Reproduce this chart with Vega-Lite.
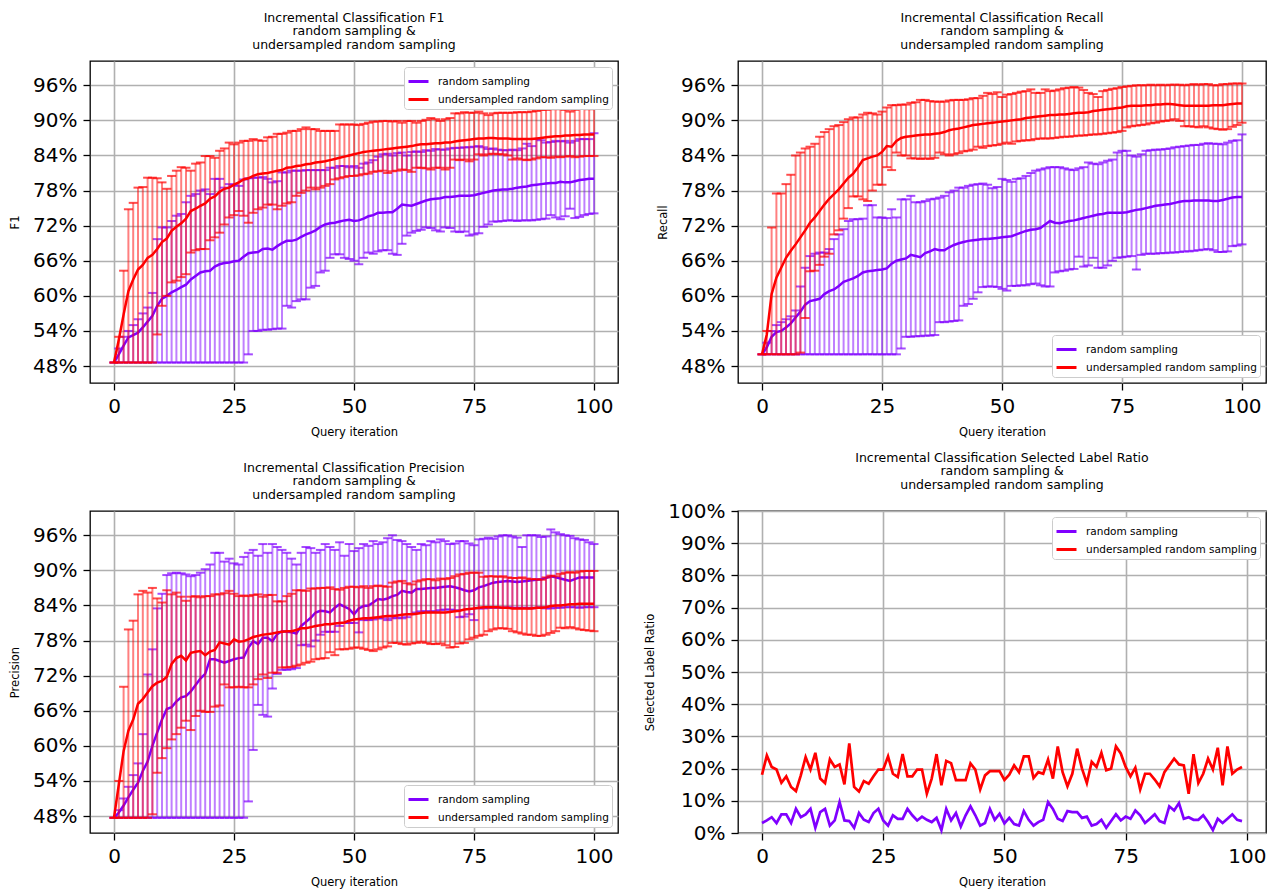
{
"$schema":"https://vega.github.io/schema/vega-lite/v6.json",
"padding":{"left":8,"top":10,"right":4,"bottom":2},
"background":"white",
"datasets":{
"f1r":[{"i":0,"m":48.6,"lo":48.6,"hi":48.6},{"i":1,"m":50.0,"lo":48.6,"hi":51},{"i":2,"m":51.5,"lo":48.6,"hi":53},{"i":3,"m":52.9,"lo":48.6,"hi":54},{"i":4,"m":53.3,"lo":48.6,"hi":55},{"i":5,"m":53.7,"lo":48.6,"hi":56},{"i":6,"m":54.6,"lo":48.6,"hi":57},{"i":7,"m":55.6,"lo":48.6,"hi":58},{"i":8,"m":56.6,"lo":48.6,"hi":60.5},{"i":9,"m":58.3,"lo":48.6,"hi":69.7},
{"i":10,"m":59.5,"lo":48.6,"hi":71.7},{"i":11,"m":60.0,"lo":48.6,"hi":71.7},{"i":12,"m":60.6,"lo":48.6,"hi":72.8},{"i":13,"m":61.0,"lo":48.6,"hi":73.7},{"i":14,"m":61.5,"lo":48.6,"hi":74.0},{"i":15,"m":61.9,"lo":48.6,"hi":76.0},{"i":16,"m":62.8,"lo":48.6,"hi":77.1},{"i":17,"m":63.4,"lo":48.6,"hi":77.4},{"i":18,"m":64.0,"lo":48.6,"hi":78.0},{"i":19,"m":64.2,"lo":48.6,"hi":78.2},
{"i":20,"m":64.3,"lo":48.6,"hi":77.4},{"i":21,"m":65.0,"lo":48.6,"hi":80.0},{"i":22,"m":65.4,"lo":48.6,"hi":80.0},{"i":23,"m":65.6,"lo":48.6,"hi":78.5},{"i":24,"m":65.7,"lo":48.6,"hi":79.1},{"i":25,"m":65.9,"lo":48.6,"hi":79.0},{"i":26,"m":66.0,"lo":48.6,"hi":78.8},{"i":27,"m":66.7,"lo":48.6,"hi":79.9},{"i":28,"m":67.3,"lo":50.0,"hi":80.1},{"i":29,"m":67.4,"lo":54.0,"hi":80.2},
{"i":30,"m":67.5,"lo":54.0,"hi":80.2},{"i":31,"m":68.0,"lo":54.2,"hi":80.3},{"i":32,"m":68.1,"lo":54.2,"hi":80.0},{"i":33,"m":67.9,"lo":54.3,"hi":79.4},{"i":34,"m":68.5,"lo":54.4,"hi":79.6},{"i":35,"m":69.0,"lo":54.4,"hi":81.1},{"i":36,"m":69.4,"lo":58.3,"hi":81.1},{"i":37,"m":69.4,"lo":58.0,"hi":81.4},{"i":38,"m":69.6,"lo":59.1,"hi":81.4},{"i":39,"m":70.1,"lo":59.4,"hi":81.4},
{"i":40,"m":70.5,"lo":59.4,"hi":81.5},{"i":41,"m":70.8,"lo":61.4,"hi":81.5},{"i":42,"m":71.2,"lo":61.7,"hi":81.5},{"i":43,"m":71.8,"lo":64.0,"hi":81.5},{"i":44,"m":72.2,"lo":64.3,"hi":81.5},{"i":45,"m":72.4,"lo":66.5,"hi":81.9},{"i":46,"m":72.5,"lo":67.1,"hi":81.9},{"i":47,"m":72.7,"lo":67.1,"hi":82.2},{"i":48,"m":72.9,"lo":66.5,"hi":82.2},{"i":49,"m":73.0,"lo":66.3,"hi":82.0},
{"i":50,"m":72.8,"lo":66.0,"hi":82.2},{"i":51,"m":72.9,"lo":65.4,"hi":81.9},{"i":52,"m":73.2,"lo":66.5,"hi":82.6},{"i":53,"m":73.6,"lo":67.4,"hi":82.8},{"i":54,"m":73.8,"lo":67.2,"hi":83.2},{"i":55,"m":74.2,"lo":67.6,"hi":83.8},{"i":56,"m":74.2,"lo":67.8,"hi":84.2},{"i":57,"m":74.3,"lo":67.8,"hi":84.3},{"i":58,"m":74.3,"lo":67.2,"hi":84.0},{"i":59,"m":74.9,"lo":67.0,"hi":84.4},
{"i":60,"m":75.6,"lo":68.9,"hi":84.5},{"i":61,"m":75.5,"lo":70.3,"hi":84.0},{"i":62,"m":75.4,"lo":70.8,"hi":84.6},{"i":63,"m":75.7,"lo":71.1,"hi":84.7},{"i":64,"m":76.0,"lo":71.3,"hi":84.6},{"i":65,"m":76.3,"lo":71.7,"hi":84.9},{"i":66,"m":76.5,"lo":71.6,"hi":84.8},{"i":67,"m":76.6,"lo":71.2,"hi":85.1},{"i":68,"m":76.7,"lo":71.0,"hi":85.0},{"i":69,"m":76.9,"lo":71.7,"hi":85.0},
{"i":70,"m":76.9,"lo":71.6,"hi":85.2},{"i":71,"m":77.0,"lo":71.0,"hi":85.3},{"i":72,"m":77.1,"lo":70.9,"hi":85.3},{"i":73,"m":77.1,"lo":71.0,"hi":85.4},{"i":74,"m":77.1,"lo":70.3,"hi":85.4},{"i":75,"m":77.2,"lo":70.5,"hi":85.5},{"i":76,"m":77.4,"lo":70.7,"hi":85.6},{"i":77,"m":77.6,"lo":71.8,"hi":85.4},{"i":78,"m":77.8,"lo":72.2,"hi":85.1},{"i":79,"m":78.0,"lo":72.7,"hi":85.2},
{"i":80,"m":78.1,"lo":72.7,"hi":85.0},{"i":81,"m":78.2,"lo":72.8,"hi":84.9},{"i":82,"m":78.2,"lo":72.9,"hi":84.9},{"i":83,"m":78.3,"lo":72.9,"hi":85.0},{"i":84,"m":78.5,"lo":72.8,"hi":84.9},{"i":85,"m":78.6,"lo":72.9,"hi":85.2},{"i":86,"m":78.7,"lo":72.9,"hi":86.0},{"i":87,"m":78.9,"lo":72.9,"hi":85.6},{"i":88,"m":79.0,"lo":73.0,"hi":86.8},{"i":89,"m":79.1,"lo":73.1,"hi":86.6},
{"i":90,"m":79.2,"lo":73.2,"hi":86.2},{"i":91,"m":79.3,"lo":73.8,"hi":86.3},{"i":92,"m":79.3,"lo":73.4,"hi":86.5},{"i":93,"m":79.5,"lo":73.1,"hi":86.4},{"i":94,"m":79.4,"lo":73.6,"hi":86.5},{"i":95,"m":79.4,"lo":74.9,"hi":86.2},{"i":96,"m":79.6,"lo":73.3,"hi":86.5},{"i":97,"m":79.8,"lo":73.5,"hi":86.8},{"i":98,"m":79.9,"lo":73.8,"hi":86.8},{"i":99,"m":80.0,"lo":74.0,"hi":86.8},{"i":100,"m":80.0,"lo":74.1,"hi":87.8}],
"f1u":[{"i":0,"m":48.6,"lo":48.6,"hi":48.6},{"i":1,"m":52.5,"lo":48.6,"hi":53.0},{"i":2,"m":56.8,"lo":48.6,"hi":64.3},{"i":3,"m":60.8,"lo":48.6,"hi":74.8},{"i":4,"m":62.8,"lo":48.6,"hi":75.9},{"i":5,"m":64.5,"lo":48.6,"hi":78.5},{"i":6,"m":65.3,"lo":48.6,"hi":78.6},{"i":7,"m":66.5,"lo":48.6,"hi":80.2},{"i":8,"m":67.0,"lo":48.6,"hi":80.2},{"i":9,"m":68.0,"lo":53.4,"hi":80.1},
{"i":10,"m":69.2,"lo":58.3,"hi":79.4},{"i":11,"m":69.8,"lo":60.0,"hi":78.3},{"i":12,"m":71.1,"lo":62.3,"hi":80.5},{"i":13,"m":71.8,"lo":62.6,"hi":81.4},{"i":14,"m":72.4,"lo":63.2,"hi":82.0},{"i":15,"m":73.2,"lo":63.7,"hi":81.9},{"i":16,"m":74.5,"lo":67.4,"hi":81.4},{"i":17,"m":74.9,"lo":67.8,"hi":82.6},{"i":18,"m":75.4,"lo":68.0,"hi":82.8},{"i":19,"m":75.8,"lo":68.0,"hi":83.9},
{"i":20,"m":76.6,"lo":69.5,"hi":83.9},{"i":21,"m":77.0,"lo":70.0,"hi":83.6},{"i":22,"m":77.8,"lo":70.8,"hi":84.8},{"i":23,"m":78.3,"lo":72.2,"hi":85.2},{"i":24,"m":78.5,"lo":73.4,"hi":86.2},{"i":25,"m":79.0,"lo":73.8,"hi":85.9},{"i":26,"m":79.4,"lo":74.5,"hi":86.2},{"i":27,"m":79.9,"lo":73.7,"hi":86.5},{"i":28,"m":80.1,"lo":72.5,"hi":86.5},{"i":29,"m":80.5,"lo":74.2,"hi":86.8},
{"i":30,"m":80.8,"lo":74.8,"hi":86.6},{"i":31,"m":80.9,"lo":75.1,"hi":86.5},{"i":32,"m":81.0,"lo":75.6,"hi":87.1},{"i":33,"m":81.2,"lo":75.6,"hi":87.2},{"i":34,"m":81.4,"lo":74.8,"hi":87.7},{"i":35,"m":81.5,"lo":75.4,"hi":87.7},{"i":36,"m":81.9,"lo":75.8,"hi":87.9},{"i":37,"m":82.0,"lo":76.0,"hi":88.2},{"i":38,"m":82.2,"lo":77.1,"hi":88.2},{"i":39,"m":82.3,"lo":77.6,"hi":88.5},
{"i":40,"m":82.5,"lo":78.0,"hi":88.8},{"i":41,"m":82.6,"lo":78.5,"hi":88.5},{"i":42,"m":82.8,"lo":78.2,"hi":88.5},{"i":43,"m":82.9,"lo":78.5,"hi":88.2},{"i":44,"m":83.0,"lo":78.8,"hi":88.2},{"i":45,"m":83.2,"lo":79.1,"hi":88.2},{"i":46,"m":83.4,"lo":79.9,"hi":88.2},{"i":47,"m":83.6,"lo":80.1,"hi":89.3},{"i":48,"m":83.8,"lo":80.3,"hi":89.3},{"i":49,"m":84.0,"lo":80.5,"hi":89.3},
{"i":50,"m":84.2,"lo":80.5,"hi":89.3},{"i":51,"m":84.4,"lo":80.6,"hi":89.2},{"i":52,"m":84.6,"lo":80.8,"hi":89.4},{"i":53,"m":84.7,"lo":80.9,"hi":89.6},{"i":54,"m":84.8,"lo":81.2,"hi":89.8},{"i":55,"m":84.9,"lo":81.3,"hi":89.8},{"i":56,"m":85.0,"lo":81.4,"hi":89.9},{"i":57,"m":85.1,"lo":81.0,"hi":89.9},{"i":58,"m":85.2,"lo":81.3,"hi":89.8},{"i":59,"m":85.3,"lo":81.4,"hi":89.9},
{"i":60,"m":85.4,"lo":81.6,"hi":89.6},{"i":61,"m":85.5,"lo":81.5,"hi":89.9},{"i":62,"m":85.6,"lo":81.2,"hi":89.9},{"i":63,"m":85.8,"lo":81.9,"hi":89.6},{"i":64,"m":85.9,"lo":81.9,"hi":89.9},{"i":65,"m":85.9,"lo":81.8,"hi":90.1},{"i":66,"m":86.0,"lo":81.6,"hi":90.4},{"i":67,"m":86.1,"lo":81.9,"hi":90.2},{"i":68,"m":86.1,"lo":81.9,"hi":89.9},{"i":69,"m":86.2,"lo":81.6,"hi":90.2},
{"i":70,"m":86.2,"lo":81.9,"hi":90.4},{"i":71,"m":86.4,"lo":83.3,"hi":91.2},{"i":72,"m":86.5,"lo":83.2,"hi":91.2},{"i":73,"m":86.6,"lo":83.3,"hi":91.4},{"i":74,"m":86.7,"lo":83.0,"hi":91.3},{"i":75,"m":86.8,"lo":83.3,"hi":91.3},{"i":76,"m":86.9,"lo":84.2,"hi":91.5},{"i":77,"m":86.9,"lo":84.0,"hi":91.2},{"i":78,"m":87.0,"lo":84.2,"hi":90.9},{"i":79,"m":87.0,"lo":84.3,"hi":91.2},
{"i":80,"m":86.9,"lo":84.2,"hi":91.3},{"i":81,"m":86.9,"lo":84.2,"hi":91.3},{"i":82,"m":86.9,"lo":84.0,"hi":91.3},{"i":83,"m":86.8,"lo":83.3,"hi":91.3},{"i":84,"m":86.8,"lo":83.5,"hi":91.4},{"i":85,"m":86.8,"lo":83.3,"hi":91.4},{"i":86,"m":86.8,"lo":83.2,"hi":91.4},{"i":87,"m":86.8,"lo":83.3,"hi":91.5},{"i":88,"m":86.9,"lo":83.5,"hi":91.6},{"i":89,"m":87.0,"lo":83.7,"hi":91.8},
{"i":90,"m":87.1,"lo":83.7,"hi":91.8},{"i":91,"m":87.2,"lo":83.6,"hi":91.9},{"i":92,"m":87.3,"lo":83.8,"hi":92.1},{"i":93,"m":87.3,"lo":83.7,"hi":91.9},{"i":94,"m":87.4,"lo":83.8,"hi":91.8},{"i":95,"m":87.4,"lo":83.9,"hi":91.5},{"i":96,"m":87.5,"lo":83.7,"hi":91.8},{"i":97,"m":87.5,"lo":83.8,"hi":92.1},{"i":98,"m":87.6,"lo":83.9,"hi":92.1},{"i":99,"m":87.6,"lo":83.9,"hi":91.9},{"i":100,"m":87.6,"lo":83.9,"hi":92.0}],
"rer":[{"i":0,"m":50.0,"lo":50.0,"hi":50.0},{"i":1,"m":51.2,"lo":50.0,"hi":52.0},{"i":2,"m":53.0,"lo":50.0,"hi":54.0},{"i":3,"m":53.8,"lo":50.0,"hi":55.0},{"i":4,"m":54.0,"lo":50.0,"hi":55.5},{"i":5,"m":54.6,"lo":50.0,"hi":56.0},{"i":6,"m":55.3,"lo":50.0,"hi":56.5},{"i":7,"m":56.3,"lo":50.0,"hi":57.5},{"i":8,"m":57.3,"lo":50.0,"hi":61.6},{"i":9,"m":58.5,"lo":50.0,"hi":64.8},
{"i":10,"m":59.1,"lo":50.0,"hi":66.8},{"i":11,"m":59.3,"lo":50.0,"hi":67.2},{"i":12,"m":59.5,"lo":50.0,"hi":67.4},{"i":13,"m":60.3,"lo":50.0,"hi":67.4},{"i":14,"m":60.8,"lo":50.0,"hi":68.0},{"i":15,"m":61.1,"lo":50.0,"hi":69.7},{"i":16,"m":61.7,"lo":50.0,"hi":70.5},{"i":17,"m":62.4,"lo":50.0,"hi":71.4},{"i":18,"m":62.7,"lo":50.0,"hi":72.8},{"i":19,"m":63.0,"lo":50.0,"hi":73.1},
{"i":20,"m":63.4,"lo":50.0,"hi":73.1},{"i":21,"m":64.0,"lo":50.0,"hi":73.2},{"i":22,"m":64.2,"lo":50.0,"hi":75.5},{"i":23,"m":64.3,"lo":50.0,"hi":75.5},{"i":24,"m":64.4,"lo":50.0,"hi":73.4},{"i":25,"m":64.5,"lo":50.0,"hi":73.4},{"i":26,"m":64.7,"lo":50.0,"hi":73.3},{"i":27,"m":65.5,"lo":50.0,"hi":74.8},{"i":28,"m":66.0,"lo":50.0,"hi":73.4},{"i":29,"m":66.2,"lo":51.0,"hi":76.5},
{"i":30,"m":66.4,"lo":53.0,"hi":76.5},{"i":31,"m":67.0,"lo":53.0,"hi":77.1},{"i":32,"m":66.8,"lo":53.1,"hi":76.0},{"i":33,"m":66.6,"lo":53.1,"hi":76.0},{"i":34,"m":67.3,"lo":53.2,"hi":76.2},{"i":35,"m":67.6,"lo":53.2,"hi":76.5},{"i":36,"m":68.0,"lo":53.3,"hi":76.6},{"i":37,"m":67.8,"lo":55.5,"hi":76.8},{"i":38,"m":67.8,"lo":55.5,"hi":77.1},{"i":39,"m":68.3,"lo":55.6,"hi":77.7},
{"i":40,"m":68.7,"lo":55.7,"hi":78.0},{"i":41,"m":69.0,"lo":55.8,"hi":78.5},{"i":42,"m":69.2,"lo":58.3,"hi":78.5},{"i":43,"m":69.4,"lo":58.6,"hi":78.8},{"i":44,"m":69.5,"lo":59.5,"hi":79.0},{"i":45,"m":69.6,"lo":60.6,"hi":79.1},{"i":46,"m":69.7,"lo":61.5,"hi":79.2},{"i":47,"m":69.7,"lo":61.6,"hi":79.0},{"i":48,"m":69.8,"lo":61.6,"hi":78.4},{"i":49,"m":69.9,"lo":61.5,"hi":78.6},
{"i":50,"m":70.0,"lo":61.2,"hi":80.0},{"i":51,"m":70.1,"lo":60.9,"hi":79.8},{"i":52,"m":70.2,"lo":61.7,"hi":79.5},{"i":53,"m":70.5,"lo":61.7,"hi":80.0},{"i":54,"m":70.8,"lo":61.8,"hi":80.1},{"i":55,"m":71.1,"lo":61.8,"hi":80.5},{"i":56,"m":71.3,"lo":62.0,"hi":81.0},{"i":57,"m":71.4,"lo":62.1,"hi":81.4},{"i":58,"m":71.6,"lo":61.8,"hi":81.6},{"i":59,"m":72.2,"lo":61.6,"hi":81.8},
{"i":60,"m":72.8,"lo":61.6,"hi":82.0},{"i":61,"m":72.5,"lo":64.0,"hi":82.0},{"i":62,"m":72.4,"lo":64.2,"hi":82.0},{"i":63,"m":72.6,"lo":64.3,"hi":81.8},{"i":64,"m":72.8,"lo":64.5,"hi":81.6},{"i":65,"m":72.9,"lo":64.6,"hi":81.5},{"i":66,"m":73.1,"lo":66.7,"hi":81.8},{"i":67,"m":73.3,"lo":65.0,"hi":82.0},{"i":68,"m":73.5,"lo":65.2,"hi":82.8},{"i":69,"m":73.7,"lo":66.5,"hi":82.6},
{"i":70,"m":73.9,"lo":64.8,"hi":82.5},{"i":71,"m":74.0,"lo":64.8,"hi":82.8},{"i":72,"m":74.2,"lo":65.2,"hi":83.1},{"i":73,"m":74.2,"lo":66.0,"hi":83.3},{"i":74,"m":74.2,"lo":66.5,"hi":84.5},{"i":75,"m":74.2,"lo":66.6,"hi":84.8},{"i":76,"m":74.3,"lo":66.7,"hi":84.8},{"i":77,"m":74.5,"lo":66.8,"hi":84.0},{"i":78,"m":74.7,"lo":64.5,"hi":83.8},{"i":79,"m":74.8,"lo":67.0,"hi":84.2},
{"i":80,"m":75.0,"lo":67.2,"hi":84.8},{"i":81,"m":75.2,"lo":67.2,"hi":84.9},{"i":82,"m":75.4,"lo":67.2,"hi":85.0},{"i":83,"m":75.5,"lo":67.3,"hi":85.0},{"i":84,"m":75.6,"lo":67.3,"hi":85.1},{"i":85,"m":75.7,"lo":67.4,"hi":85.2},{"i":86,"m":75.9,"lo":67.4,"hi":85.4},{"i":87,"m":76.1,"lo":67.5,"hi":85.5},{"i":88,"m":76.2,"lo":67.6,"hi":85.6},{"i":89,"m":76.2,"lo":67.6,"hi":85.7},
{"i":90,"m":76.3,"lo":67.7,"hi":85.8},{"i":91,"m":76.3,"lo":67.8,"hi":85.8},{"i":92,"m":76.3,"lo":67.9,"hi":86.0},{"i":93,"m":76.3,"lo":68.0,"hi":86.1},{"i":94,"m":76.2,"lo":67.8,"hi":86.0},{"i":95,"m":76.2,"lo":67.5,"hi":86.0},{"i":96,"m":76.4,"lo":67.5,"hi":85.9},{"i":97,"m":76.6,"lo":67.6,"hi":86.2},{"i":98,"m":76.8,"lo":68.5,"hi":86.5},{"i":99,"m":76.9,"lo":68.6,"hi":86.6},{"i":100,"m":76.9,"lo":68.8,"hi":87.6}],
"reu":[{"i":0,"m":50.0,"lo":50.0,"hi":50.0},{"i":1,"m":53.4,"lo":50.0,"hi":54.0},{"i":2,"m":60.3,"lo":50.0,"hi":71.7},{"i":3,"m":63.1,"lo":50.0,"hi":77.5},{"i":4,"m":64.8,"lo":50.0,"hi":77.5},{"i":5,"m":66.5,"lo":50.0,"hi":79.1},{"i":6,"m":67.7,"lo":50.0,"hi":80.7},{"i":7,"m":68.8,"lo":50.0,"hi":84.0},{"i":8,"m":70.0,"lo":50.3,"hi":84.5},{"i":9,"m":71.2,"lo":56.2,"hi":85.2},
{"i":10,"m":72.5,"lo":64.2,"hi":85.5},{"i":11,"m":73.4,"lo":64.3,"hi":86.0},{"i":12,"m":74.5,"lo":65.3,"hi":87.2},{"i":13,"m":75.6,"lo":66.7,"hi":88.0},{"i":14,"m":76.6,"lo":67.2,"hi":88.5},{"i":15,"m":77.4,"lo":70.5,"hi":89.0},{"i":16,"m":78.2,"lo":71.2,"hi":89.2},{"i":17,"m":79.2,"lo":73.2,"hi":89.7},{"i":18,"m":80.2,"lo":75.0,"hi":90.2},{"i":19,"m":80.9,"lo":77.0,"hi":90.5},
{"i":20,"m":82.0,"lo":77.0,"hi":90.5},{"i":21,"m":83.2,"lo":76.5,"hi":91.0},{"i":22,"m":83.5,"lo":76.2,"hi":91.3},{"i":23,"m":83.8,"lo":78.0,"hi":91.2},{"i":24,"m":84.0,"lo":79.0,"hi":91.0},{"i":25,"m":84.6,"lo":79.0,"hi":91.5},{"i":26,"m":85.6,"lo":82.0,"hi":92.2},{"i":27,"m":85.5,"lo":81.5,"hi":92.6},{"i":28,"m":86.5,"lo":84.5,"hi":92.6},{"i":29,"m":87.0,"lo":84.0,"hi":92.7},
{"i":30,"m":87.2,"lo":84.0,"hi":92.7},{"i":31,"m":87.3,"lo":83.5,"hi":93.0},{"i":32,"m":87.4,"lo":83.5,"hi":93.1},{"i":33,"m":87.5,"lo":83.4,"hi":93.5},{"i":34,"m":87.6,"lo":83.5,"hi":93.5},{"i":35,"m":87.6,"lo":83.4,"hi":93.3},{"i":36,"m":87.7,"lo":83.6,"hi":93.2},{"i":37,"m":87.8,"lo":84.5,"hi":93.2},{"i":38,"m":88.0,"lo":84.2,"hi":93.2},{"i":39,"m":88.3,"lo":84.0,"hi":93.4},
{"i":40,"m":88.5,"lo":84.2,"hi":93.5},{"i":41,"m":88.6,"lo":84.4,"hi":93.5},{"i":42,"m":88.8,"lo":84.7,"hi":93.5},{"i":43,"m":89.0,"lo":84.8,"hi":93.6},{"i":44,"m":89.2,"lo":85.0,"hi":93.8},{"i":45,"m":89.3,"lo":85.5,"hi":93.8},{"i":46,"m":89.4,"lo":85.3,"hi":94.2},{"i":47,"m":89.5,"lo":85.6,"hi":94.7},{"i":48,"m":89.6,"lo":85.7,"hi":94.5},{"i":49,"m":89.7,"lo":85.8,"hi":94.8},
{"i":50,"m":89.8,"lo":86.0,"hi":94.0},{"i":51,"m":89.9,"lo":86.2,"hi":94.4},{"i":52,"m":90.0,"lo":86.0,"hi":94.5},{"i":53,"m":90.1,"lo":86.4,"hi":94.7},{"i":54,"m":90.2,"lo":86.5,"hi":94.9},{"i":55,"m":90.4,"lo":86.6,"hi":95.0},{"i":56,"m":90.5,"lo":86.6,"hi":95.3},{"i":57,"m":90.6,"lo":86.8,"hi":94.7},{"i":58,"m":90.7,"lo":86.9,"hi":94.7},{"i":59,"m":90.8,"lo":86.9,"hi":95.3},
{"i":60,"m":90.9,"lo":86.9,"hi":95.0},{"i":61,"m":90.9,"lo":87.0,"hi":95.1},{"i":62,"m":91.0,"lo":87.1,"hi":95.3},{"i":63,"m":91.0,"lo":87.2,"hi":95.5},{"i":64,"m":91.1,"lo":87.2,"hi":95.6},{"i":65,"m":91.2,"lo":87.3,"hi":95.7},{"i":66,"m":91.3,"lo":87.4,"hi":95.6},{"i":67,"m":91.3,"lo":87.4,"hi":95.2},{"i":68,"m":91.4,"lo":87.5,"hi":94.7},{"i":69,"m":91.6,"lo":87.6,"hi":94.5},
{"i":70,"m":91.7,"lo":87.6,"hi":94.0},{"i":71,"m":91.8,"lo":87.7,"hi":95.0},{"i":72,"m":91.9,"lo":87.8,"hi":95.2},{"i":73,"m":92.0,"lo":87.9,"hi":95.4},{"i":74,"m":92.1,"lo":88.0,"hi":95.5},{"i":75,"m":92.2,"lo":88.2,"hi":95.7},{"i":76,"m":92.4,"lo":88.8,"hi":95.8},{"i":77,"m":92.5,"lo":89.0,"hi":95.9},{"i":78,"m":92.5,"lo":89.1,"hi":96.0},{"i":79,"m":92.5,"lo":89.2,"hi":96.0},
{"i":80,"m":92.6,"lo":89.3,"hi":96.0},{"i":81,"m":92.6,"lo":89.5,"hi":96.1},{"i":82,"m":92.7,"lo":89.6,"hi":96.0},{"i":83,"m":92.7,"lo":89.8,"hi":96.1},{"i":84,"m":92.8,"lo":89.9,"hi":96.0},{"i":85,"m":92.8,"lo":90.0,"hi":96.1},{"i":86,"m":92.7,"lo":90.2,"hi":96.1},{"i":87,"m":92.6,"lo":89.9,"hi":96.1},{"i":88,"m":92.5,"lo":89.0,"hi":96.0},{"i":89,"m":92.5,"lo":89.0,"hi":96.1},
{"i":90,"m":92.5,"lo":88.9,"hi":96.2},{"i":91,"m":92.5,"lo":88.8,"hi":96.1},{"i":92,"m":92.5,"lo":89.0,"hi":96.2},{"i":93,"m":92.5,"lo":88.8,"hi":96.2},{"i":94,"m":92.6,"lo":88.6,"hi":96.0},{"i":95,"m":92.6,"lo":88.5,"hi":96.0},{"i":96,"m":92.6,"lo":88.4,"hi":96.2},{"i":97,"m":92.7,"lo":88.5,"hi":96.2},{"i":98,"m":92.8,"lo":88.9,"hi":96.3},{"i":99,"m":92.9,"lo":89.2,"hi":96.3},{"i":100,"m":92.9,"lo":89.6,"hi":96.3}],
"prr":[{"i":0,"m":47.7,"lo":47.7,"hi":47.7},{"i":1,"m":48.6,"lo":47.7,"hi":49.0},{"i":2,"m":49.8,"lo":47.7,"hi":51.0},{"i":3,"m":51.2,"lo":47.7,"hi":53.0},{"i":4,"m":52.5,"lo":47.7,"hi":55.0},{"i":5,"m":53.7,"lo":47.7,"hi":57.0},{"i":6,"m":55.7,"lo":47.7,"hi":62.0},{"i":7,"m":57.3,"lo":47.7,"hi":72.2},{"i":8,"m":60.0,"lo":47.7,"hi":76.5},{"i":9,"m":62.3,"lo":47.7,"hi":83.5},
{"i":10,"m":64.5,"lo":47.7,"hi":86.0},{"i":11,"m":66.3,"lo":47.7,"hi":89.2},{"i":12,"m":66.6,"lo":47.7,"hi":89.5},{"i":13,"m":67.6,"lo":47.7,"hi":89.6},{"i":14,"m":68.3,"lo":47.7,"hi":89.5},{"i":15,"m":68.5,"lo":47.7,"hi":89.3},{"i":16,"m":69.3,"lo":47.7,"hi":89.0},{"i":17,"m":70.4,"lo":47.7,"hi":89.2},{"i":18,"m":71.5,"lo":47.7,"hi":89.6},{"i":19,"m":72.3,"lo":47.7,"hi":90.2},
{"i":20,"m":74.8,"lo":47.7,"hi":91.0},{"i":21,"m":74.8,"lo":47.7,"hi":93.0},{"i":22,"m":74.5,"lo":47.7,"hi":93.0},{"i":23,"m":74.2,"lo":47.7,"hi":91.5},{"i":24,"m":74.5,"lo":47.7,"hi":92.0},{"i":25,"m":74.8,"lo":47.7,"hi":91.2},{"i":26,"m":75.0,"lo":47.7,"hi":91.0},{"i":27,"m":75.1,"lo":47.7,"hi":92.3},{"i":28,"m":76.8,"lo":50.5,"hi":93.0},{"i":29,"m":77.9,"lo":59.3,"hi":93.5},
{"i":30,"m":77.4,"lo":67.0,"hi":92.5},{"i":31,"m":78.5,"lo":65.3,"hi":94.5},{"i":32,"m":78.5,"lo":65.0,"hi":93.0},{"i":33,"m":77.9,"lo":69.8,"hi":94.5},{"i":34,"m":79.1,"lo":72.3,"hi":94.0},{"i":35,"m":79.6,"lo":73.0,"hi":93.5},{"i":36,"m":79.5,"lo":73.0,"hi":93.0},{"i":37,"m":79.4,"lo":73.1,"hi":92.0},{"i":38,"m":79.2,"lo":73.3,"hi":91.0},{"i":39,"m":80.5,"lo":77.2,"hi":93.0},
{"i":40,"m":81.2,"lo":77.3,"hi":94.0},{"i":41,"m":81.9,"lo":77.0,"hi":93.8},{"i":42,"m":82.8,"lo":78.0,"hi":93.0},{"i":43,"m":83.1,"lo":79.0,"hi":93.5},{"i":44,"m":83.0,"lo":79.5,"hi":94.5},{"i":45,"m":82.8,"lo":79.5,"hi":94.0},{"i":46,"m":83.6,"lo":79.5,"hi":93.5},{"i":47,"m":84.2,"lo":80.5,"hi":94.8},{"i":48,"m":83.8,"lo":81.0,"hi":92.5},{"i":49,"m":83.4,"lo":81.0,"hi":94.5},
{"i":50,"m":82.5,"lo":81.0,"hi":93.3},{"i":51,"m":83.5,"lo":79.4,"hi":93.8},{"i":52,"m":83.9,"lo":81.5,"hi":94.5},{"i":53,"m":84.0,"lo":81.5,"hi":94.2},{"i":54,"m":84.5,"lo":81.6,"hi":95.0},{"i":55,"m":85.1,"lo":81.8,"hi":94.5},{"i":56,"m":85.0,"lo":81.8,"hi":94.8},{"i":57,"m":85.2,"lo":81.5,"hi":95.5},{"i":58,"m":85.6,"lo":81.8,"hi":96.0},{"i":59,"m":85.8,"lo":81.9,"hi":95.2},
{"i":60,"m":86.5,"lo":81.8,"hi":95.0},{"i":61,"m":86.3,"lo":82.0,"hi":94.5},{"i":62,"m":86.2,"lo":82.5,"hi":94.0},{"i":63,"m":86.8,"lo":82.8,"hi":93.5},{"i":64,"m":86.8,"lo":83.0,"hi":94.5},{"i":65,"m":86.9,"lo":83.0,"hi":94.3},{"i":66,"m":87.0,"lo":83.0,"hi":95.0},{"i":67,"m":87.0,"lo":83.0,"hi":94.8},{"i":68,"m":87.1,"lo":83.2,"hi":95.3},{"i":69,"m":87.2,"lo":83.3,"hi":95.0},
{"i":70,"m":87.3,"lo":83.3,"hi":94.5},{"i":71,"m":87.1,"lo":83.2,"hi":94.6},{"i":72,"m":86.9,"lo":82.0,"hi":95.0},{"i":73,"m":86.6,"lo":82.1,"hi":95.0},{"i":74,"m":86.4,"lo":82.5,"hi":94.6},{"i":75,"m":86.6,"lo":81.5,"hi":94.3},{"i":76,"m":87.1,"lo":83.5,"hi":95.3},{"i":77,"m":87.3,"lo":83.5,"hi":95.4},{"i":78,"m":87.6,"lo":83.6,"hi":95.6},{"i":79,"m":87.9,"lo":83.6,"hi":95.4},
{"i":80,"m":88.0,"lo":83.6,"hi":95.8},{"i":81,"m":88.1,"lo":83.6,"hi":96.0},{"i":82,"m":88.2,"lo":83.7,"hi":96.0},{"i":83,"m":88.1,"lo":83.6,"hi":95.8},{"i":84,"m":88.0,"lo":83.6,"hi":95.6},{"i":85,"m":88.1,"lo":83.6,"hi":94.0},{"i":86,"m":88.2,"lo":83.6,"hi":96.0},{"i":87,"m":88.3,"lo":83.5,"hi":96.0},{"i":88,"m":88.4,"lo":83.6,"hi":96.0},{"i":89,"m":88.5,"lo":83.7,"hi":95.7},
{"i":90,"m":88.7,"lo":83.5,"hi":95.8},{"i":91,"m":89.0,"lo":83.5,"hi":97.0},{"i":92,"m":88.8,"lo":83.6,"hi":96.5},{"i":93,"m":88.6,"lo":83.6,"hi":96.2},{"i":94,"m":88.4,"lo":83.7,"hi":96.0},{"i":95,"m":88.2,"lo":83.7,"hi":95.9},{"i":96,"m":88.5,"lo":83.7,"hi":95.5},{"i":97,"m":88.8,"lo":83.6,"hi":95.3},{"i":98,"m":88.8,"lo":83.7,"hi":95.2},{"i":99,"m":88.8,"lo":83.7,"hi":94.8},{"i":100,"m":88.8,"lo":83.7,"hi":94.5}],
"pru":[{"i":0,"m":47.7,"lo":47.7,"hi":47.7},{"i":1,"m":53.4,"lo":47.7,"hi":54.0},{"i":2,"m":59.1,"lo":47.7,"hi":70.1},{"i":3,"m":62.6,"lo":47.7,"hi":79.9},{"i":4,"m":64.5,"lo":47.7,"hi":81.4},{"i":5,"m":67.2,"lo":47.7,"hi":85.9},{"i":6,"m":68.0,"lo":47.7,"hi":86.5},{"i":7,"m":69.1,"lo":47.7,"hi":86.2},{"i":8,"m":70.2,"lo":48.3,"hi":87.0},{"i":9,"m":70.8,"lo":55.4,"hi":85.2},
{"i":10,"m":71.1,"lo":57.9,"hi":84.5},{"i":11,"m":71.8,"lo":59.6,"hi":86.6},{"i":12,"m":74.0,"lo":61.1,"hi":85.9},{"i":13,"m":75.0,"lo":62.0,"hi":86.2},{"i":14,"m":75.4,"lo":63.1,"hi":85.5},{"i":15,"m":74.6,"lo":64.3,"hi":84.8},{"i":16,"m":75.9,"lo":62.7,"hi":85.5},{"i":17,"m":76.1,"lo":65.1,"hi":85.6},{"i":18,"m":76.2,"lo":66.0,"hi":85.4},{"i":19,"m":75.5,"lo":65.8,"hi":85.6},
{"i":20,"m":76.1,"lo":65.8,"hi":85.6},{"i":21,"m":76.4,"lo":66.7,"hi":85.9},{"i":22,"m":77.7,"lo":66.9,"hi":85.9},{"i":23,"m":77.5,"lo":70.5,"hi":86.1},{"i":24,"m":77.3,"lo":70.0,"hi":86.5},{"i":25,"m":78.2,"lo":70.0,"hi":86.0},{"i":26,"m":77.8,"lo":70.1,"hi":85.6},{"i":27,"m":77.9,"lo":70.0,"hi":85.7},{"i":28,"m":78.2,"lo":70.0,"hi":85.6},{"i":29,"m":78.6,"lo":70.5,"hi":85.8},
{"i":30,"m":78.8,"lo":71.4,"hi":85.9},{"i":31,"m":79.0,"lo":72.2,"hi":85.5},{"i":32,"m":79.1,"lo":71.6,"hi":85.8},{"i":33,"m":79.2,"lo":72.5,"hi":85.8},{"i":34,"m":79.4,"lo":72.5,"hi":84.7},{"i":35,"m":79.5,"lo":73.4,"hi":84.7},{"i":36,"m":79.6,"lo":73.4,"hi":85.6},{"i":37,"m":79.6,"lo":73.5,"hi":86.0},{"i":38,"m":79.8,"lo":73.7,"hi":86.6},{"i":39,"m":80.1,"lo":73.9,"hi":86.6},
{"i":40,"m":80.1,"lo":74.2,"hi":86.5},{"i":41,"m":80.3,"lo":74.4,"hi":86.9},{"i":42,"m":80.5,"lo":74.8,"hi":86.9},{"i":43,"m":80.6,"lo":74.9,"hi":87.0},{"i":44,"m":80.8,"lo":75.0,"hi":87.0},{"i":45,"m":80.8,"lo":76.0,"hi":87.1},{"i":46,"m":80.9,"lo":75.5,"hi":86.8},{"i":47,"m":81.0,"lo":76.5,"hi":86.7},{"i":48,"m":81.1,"lo":76.5,"hi":87.0},{"i":49,"m":81.4,"lo":76.6,"hi":87.2},
{"i":50,"m":81.6,"lo":76.8,"hi":87.2},{"i":51,"m":81.7,"lo":76.8,"hi":87.1},{"i":52,"m":81.8,"lo":76.6,"hi":87.3},{"i":53,"m":81.8,"lo":76.4,"hi":87.0},{"i":54,"m":81.9,"lo":76.2,"hi":87.3},{"i":55,"m":82.0,"lo":76.5,"hi":87.4},{"i":56,"m":82.1,"lo":76.8,"hi":87.3},{"i":57,"m":82.2,"lo":77.0,"hi":87.2},{"i":58,"m":82.2,"lo":77.6,"hi":87.9},{"i":59,"m":82.3,"lo":77.6,"hi":88.1},
{"i":60,"m":82.4,"lo":77.4,"hi":88.2},{"i":61,"m":82.5,"lo":77.3,"hi":87.8},{"i":62,"m":82.5,"lo":77.5,"hi":87.6},{"i":63,"m":82.6,"lo":77.6,"hi":88.1},{"i":64,"m":82.7,"lo":77.8,"hi":88.3},{"i":65,"m":82.8,"lo":77.6,"hi":88.5},{"i":66,"m":82.8,"lo":77.4,"hi":88.5},{"i":67,"m":82.8,"lo":77.4,"hi":88.3},{"i":68,"m":82.8,"lo":77.5,"hi":88.6},{"i":69,"m":82.8,"lo":77.2,"hi":88.5},
{"i":70,"m":82.9,"lo":76.8,"hi":88.7},{"i":71,"m":83.0,"lo":76.9,"hi":89.0},{"i":72,"m":83.1,"lo":77.5,"hi":89.3},{"i":73,"m":83.3,"lo":77.6,"hi":89.4},{"i":74,"m":83.4,"lo":78.2,"hi":89.6},{"i":75,"m":83.5,"lo":78.5,"hi":89.6},{"i":76,"m":83.6,"lo":78.8,"hi":89.6},{"i":77,"m":83.7,"lo":79.0,"hi":88.9},{"i":78,"m":83.7,"lo":79.6,"hi":89.0},{"i":79,"m":83.7,"lo":79.9,"hi":89.0},
{"i":80,"m":83.7,"lo":80.1,"hi":88.9},{"i":81,"m":83.6,"lo":80.1,"hi":89.0},{"i":82,"m":83.6,"lo":80.0,"hi":88.8},{"i":83,"m":83.5,"lo":79.6,"hi":88.7},{"i":84,"m":83.5,"lo":79.4,"hi":88.7},{"i":85,"m":83.5,"lo":79.2,"hi":88.8},{"i":86,"m":83.5,"lo":79.0,"hi":88.6},{"i":87,"m":83.5,"lo":79.0,"hi":88.5},{"i":88,"m":83.6,"lo":78.8,"hi":88.5},{"i":89,"m":83.6,"lo":78.8,"hi":88.4},
{"i":90,"m":83.7,"lo":79.0,"hi":88.8},{"i":91,"m":83.9,"lo":79.3,"hi":89.1},{"i":92,"m":84.0,"lo":79.6,"hi":89.0},{"i":93,"m":84.0,"lo":80.2,"hi":89.4},{"i":94,"m":84.1,"lo":80.1,"hi":89.6},{"i":95,"m":84.2,"lo":80.3,"hi":89.7},{"i":96,"m":84.2,"lo":80.1,"hi":89.6},{"i":97,"m":84.3,"lo":79.9,"hi":89.8},{"i":98,"m":84.3,"lo":79.8,"hi":89.9},{"i":99,"m":84.3,"lo":79.7,"hi":89.9},{"i":100,"m":84.3,"lo":79.6,"hi":89.9}],
"lrr":[{"i":0,"v":3.1},{"i":1,"v":3.9},{"i":2,"v":4.9},{"i":3,"v":3.1},{"i":4,"v":5.8},{"i":5,"v":5.8},{"i":6,"v":3.1},{"i":7,"v":7.5},{"i":8,"v":4.9},{"i":9,"v":5.8},
{"i":10,"v":7.5},{"i":11,"v":1.6},{"i":12,"v":6.5},{"i":13,"v":7.5},{"i":14,"v":2.3},{"i":15,"v":3.9},{"i":16,"v":9.6},{"i":17,"v":3.9},{"i":18,"v":3.7},{"i":19,"v":1.6},
{"i":20,"v":6.2},{"i":21,"v":4.1},{"i":22,"v":3.4},{"i":23,"v":6.2},{"i":24,"v":7.5},{"i":25,"v":3.9},{"i":26,"v":2.3},{"i":27,"v":5.5},{"i":28,"v":4.4},{"i":29,"v":4.4},
{"i":30,"v":7.5},{"i":31,"v":5.5},{"i":32,"v":3.9},{"i":33,"v":5.1},{"i":34,"v":4.1},{"i":35,"v":3.4},{"i":36,"v":4.7},{"i":37,"v":0.9},{"i":38,"v":7.5},{"i":39,"v":3.9},
{"i":40,"v":6.2},{"i":41,"v":2.0},{"i":42,"v":5.5},{"i":43,"v":8.3},{"i":44,"v":5.5},{"i":45,"v":2.3},{"i":46,"v":3.1},{"i":47,"v":7.5},{"i":48,"v":4.1},{"i":49,"v":6.0},
{"i":50,"v":3.0},{"i":51,"v":4.7},{"i":52,"v":2.8},{"i":53,"v":2.3},{"i":54,"v":6.8},{"i":55,"v":4.1},{"i":56,"v":2.3},{"i":57,"v":3.4},{"i":58,"v":4.1},{"i":59,"v":9.6},
{"i":60,"v":7.5},{"i":61,"v":4.4},{"i":62,"v":3.7},{"i":63,"v":6.8},{"i":64,"v":6.5},{"i":65,"v":6.5},{"i":66,"v":4.7},{"i":67,"v":5.1},{"i":68,"v":2.3},{"i":69,"v":2.8},
{"i":70,"v":4.1},{"i":71,"v":1.6},{"i":72,"v":3.7},{"i":73,"v":5.8},{"i":74,"v":3.9},{"i":75,"v":5.1},{"i":76,"v":4.4},{"i":77,"v":7.0},{"i":78,"v":5.5},{"i":79,"v":3.1},
{"i":80,"v":4.4},{"i":81,"v":5.8},{"i":82,"v":3.7},{"i":83,"v":3.1},{"i":84,"v":8.3},{"i":85,"v":7.0},{"i":86,"v":9.3},{"i":87,"v":4.4},{"i":88,"v":4.9},{"i":89,"v":4.1},
{"i":90,"v":4.1},{"i":91,"v":5.5},{"i":92,"v":3.4},{"i":93,"v":0.9},{"i":94,"v":4.4},{"i":95,"v":3.1},{"i":96,"v":4.4},{"i":97,"v":5.8},{"i":98,"v":4.1},{"i":99,"v":3.7}],
"lru":[{"i":0,"v":18.1},{"i":1,"v":24.1},{"i":2,"v":20.5},{"i":3,"v":19.7},{"i":4,"v":15.6},{"i":5,"v":17.6},{"i":6,"v":14.3},{"i":7,"v":13.0},{"i":8,"v":17.9},{"i":9,"v":23.6},
{"i":10,"v":19.7},{"i":11,"v":24.9},{"i":12,"v":16.9},{"i":13,"v":15.5},{"i":14,"v":22.9},{"i":15,"v":20.5},{"i":16,"v":21.3},{"i":17,"v":15.1},{"i":18,"v":27.8},{"i":19,"v":14.3},
{"i":20,"v":12.9},{"i":21,"v":16.1},{"i":22,"v":15.3},{"i":23,"v":17.6},{"i":24,"v":19.7},{"i":25,"v":19.7},{"i":26,"v":23.8},{"i":27,"v":18.4},{"i":28,"v":17.4},{"i":29,"v":24.5},
{"i":30,"v":17.6},{"i":31,"v":17.6},{"i":32,"v":19.7},{"i":33,"v":19.7},{"i":34,"v":12.2},{"i":35,"v":16.9},{"i":36,"v":24.5},{"i":37,"v":14.8},{"i":38,"v":22.4},{"i":39,"v":21.7},
{"i":40,"v":16.4},{"i":41,"v":16.4},{"i":42,"v":16.4},{"i":43,"v":21.6},{"i":44,"v":19.7},{"i":45,"v":13.5},{"i":46,"v":17.9},{"i":47,"v":19.2},{"i":48,"v":19.2},{"i":49,"v":19.2},
{"i":50,"v":16.5},{"i":51,"v":18.1},{"i":52,"v":21.0},{"i":53,"v":18.9},{"i":54,"v":23.8},{"i":55,"v":23.8},{"i":56,"v":17.1},{"i":57,"v":18.9},{"i":58,"v":18.4},{"i":59,"v":22.8},
{"i":60,"v":16.9},{"i":61,"v":26.9},{"i":62,"v":18.9},{"i":63,"v":14.5},{"i":64,"v":18.4},{"i":65,"v":26.2},{"i":66,"v":20.0},{"i":67,"v":15.5},{"i":68,"v":22.1},{"i":69,"v":20.5},
{"i":70,"v":24.9},{"i":71,"v":19.5},{"i":72,"v":20.0},{"i":73,"v":26.9},{"i":74,"v":24.7},{"i":75,"v":20.5},{"i":76,"v":17.6},{"i":77,"v":20.3},{"i":78,"v":13.5},{"i":79,"v":18.4},
{"i":80,"v":18.4},{"i":81,"v":16.6},{"i":82,"v":14.5},{"i":83,"v":18.9},{"i":84,"v":21.0},{"i":85,"v":23.1},{"i":86,"v":21.3},{"i":87,"v":21.0},{"i":88,"v":12.2},{"i":89,"v":24.5},
{"i":90,"v":15.5},{"i":91,"v":18.4},{"i":92,"v":23.1},{"i":93,"v":19.7},{"i":94,"v":26.5},{"i":95,"v":14.8},{"i":96,"v":26.9},{"i":97,"v":18.4},{"i":98,"v":19.7},{"i":99,"v":20.5}]
},
"columns":2,
"spacing":{"row":128,"column":120},
"bounds":"flush",
"concat":[
{"width":528,"height":322,
 "title":{"text":["Incremental Classification F1","random sampling &","undersampled random sampling"]},
 "encoding":{"x":{"field":"i","type":"quantitative","scale":{"domain":[-5,105],"nice":false,"zero":false},"axis":{"values":[0,25,50,75,100],"title":"Query iteration"}}},
 "layer":[
  {"data":{"name":"f1r"},"mark":{"type":"rule","color":"#8000ff","opacity":0.5,"strokeWidth":2},"encoding":{"y":{"field":"lo","type":"quantitative","scale":{"domain":[45.1,100.15],"nice":false,"zero":false},"axis":{"values":[48,54,60,66,72,78,84,90,96],"labelExpr":"datum.value + '%'","title":"F1"}},"y2":{"field":"hi"}}},
  {"data":{"name":"f1r"},"mark":{"type":"tick","orient":"horizontal","color":"#8000ff","size":9,"thickness":2},"encoding":{"y":{"field":"hi","type":"quantitative","scale":{"domain":[45.1,100.15],"nice":false,"zero":false},"axis":{"values":[48,54,60,66,72,78,84,90,96],"labelExpr":"datum.value + '%'","title":"F1"}}}},
  {"data":{"name":"f1r"},"mark":{"type":"tick","orient":"horizontal","color":"#8000ff","size":9,"thickness":2},"encoding":{"y":{"field":"lo","type":"quantitative","scale":{"domain":[45.1,100.15],"nice":false,"zero":false},"axis":{"values":[48,54,60,66,72,78,84,90,96],"labelExpr":"datum.value + '%'","title":"F1"}}}},
  {"data":{"name":"f1r"},"mark":{"type":"line","strokeWidth":2.5},"encoding":{"y":{"field":"m","type":"quantitative","scale":{"domain":[45.1,100.15],"nice":false,"zero":false},"axis":{"values":[48,54,60,66,72,78,84,90,96],"labelExpr":"datum.value + '%'","title":"F1"}},"color":{"datum":"random sampling","type":"nominal","scale":{"domain":["random sampling","undersampled random sampling"],"range":["#8000ff","#ff0000"]},"legend":{"orient":"top-right","title":null}}}},
  {"data":{"name":"f1u"},"mark":{"type":"rule","color":"#ff0000","opacity":0.5,"strokeWidth":2},"encoding":{"y":{"field":"lo","type":"quantitative","scale":{"domain":[45.1,100.15],"nice":false,"zero":false},"axis":{"values":[48,54,60,66,72,78,84,90,96],"labelExpr":"datum.value + '%'","title":"F1"}},"y2":{"field":"hi"}}},
  {"data":{"name":"f1u"},"mark":{"type":"tick","orient":"horizontal","color":"#ff0000","size":9,"thickness":2},"encoding":{"y":{"field":"hi","type":"quantitative","scale":{"domain":[45.1,100.15],"nice":false,"zero":false},"axis":{"values":[48,54,60,66,72,78,84,90,96],"labelExpr":"datum.value + '%'","title":"F1"}}}},
  {"data":{"name":"f1u"},"mark":{"type":"tick","orient":"horizontal","color":"#ff0000","size":9,"thickness":2},"encoding":{"y":{"field":"lo","type":"quantitative","scale":{"domain":[45.1,100.15],"nice":false,"zero":false},"axis":{"values":[48,54,60,66,72,78,84,90,96],"labelExpr":"datum.value + '%'","title":"F1"}}}},
  {"data":{"name":"f1u"},"mark":{"type":"line","strokeWidth":2.5},"encoding":{"y":{"field":"m","type":"quantitative","scale":{"domain":[45.1,100.15],"nice":false,"zero":false},"axis":{"values":[48,54,60,66,72,78,84,90,96],"labelExpr":"datum.value + '%'","title":"F1"}},"color":{"datum":"undersampled random sampling","type":"nominal","scale":{"domain":["random sampling","undersampled random sampling"],"range":["#8000ff","#ff0000"]},"legend":{"orient":"top-right","title":null}}}}
 ]},
{"width":528,"height":322,
 "title":{"text":["Incremental Classification Recall","random sampling &","undersampled random sampling"]},
 "encoding":{"x":{"field":"i","type":"quantitative","scale":{"domain":[-5,105],"nice":false,"zero":false},"axis":{"values":[0,25,50,75,100],"title":"Query iteration"}}},
 "layer":[
  {"data":{"name":"rer"},"mark":{"type":"rule","color":"#8000ff","opacity":0.5,"strokeWidth":2},"encoding":{"y":{"field":"lo","type":"quantitative","scale":{"domain":[45.1,100.15],"nice":false,"zero":false},"axis":{"values":[48,54,60,66,72,78,84,90,96],"labelExpr":"datum.value + '%'","title":"Recall"}},"y2":{"field":"hi"}}},
  {"data":{"name":"rer"},"mark":{"type":"tick","orient":"horizontal","color":"#8000ff","size":9,"thickness":2},"encoding":{"y":{"field":"hi","type":"quantitative","scale":{"domain":[45.1,100.15],"nice":false,"zero":false},"axis":{"values":[48,54,60,66,72,78,84,90,96],"labelExpr":"datum.value + '%'","title":"Recall"}}}},
  {"data":{"name":"rer"},"mark":{"type":"tick","orient":"horizontal","color":"#8000ff","size":9,"thickness":2},"encoding":{"y":{"field":"lo","type":"quantitative","scale":{"domain":[45.1,100.15],"nice":false,"zero":false},"axis":{"values":[48,54,60,66,72,78,84,90,96],"labelExpr":"datum.value + '%'","title":"Recall"}}}},
  {"data":{"name":"rer"},"mark":{"type":"line","strokeWidth":2.5},"encoding":{"y":{"field":"m","type":"quantitative","scale":{"domain":[45.1,100.15],"nice":false,"zero":false},"axis":{"values":[48,54,60,66,72,78,84,90,96],"labelExpr":"datum.value + '%'","title":"Recall"}},"color":{"datum":"random sampling","type":"nominal","scale":{"domain":["random sampling","undersampled random sampling"],"range":["#8000ff","#ff0000"]},"legend":{"orient":"bottom-right","title":null}}}},
  {"data":{"name":"reu"},"mark":{"type":"rule","color":"#ff0000","opacity":0.5,"strokeWidth":2},"encoding":{"y":{"field":"lo","type":"quantitative","scale":{"domain":[45.1,100.15],"nice":false,"zero":false},"axis":{"values":[48,54,60,66,72,78,84,90,96],"labelExpr":"datum.value + '%'","title":"Recall"}},"y2":{"field":"hi"}}},
  {"data":{"name":"reu"},"mark":{"type":"tick","orient":"horizontal","color":"#ff0000","size":9,"thickness":2},"encoding":{"y":{"field":"hi","type":"quantitative","scale":{"domain":[45.1,100.15],"nice":false,"zero":false},"axis":{"values":[48,54,60,66,72,78,84,90,96],"labelExpr":"datum.value + '%'","title":"Recall"}}}},
  {"data":{"name":"reu"},"mark":{"type":"tick","orient":"horizontal","color":"#ff0000","size":9,"thickness":2},"encoding":{"y":{"field":"lo","type":"quantitative","scale":{"domain":[45.1,100.15],"nice":false,"zero":false},"axis":{"values":[48,54,60,66,72,78,84,90,96],"labelExpr":"datum.value + '%'","title":"Recall"}}}},
  {"data":{"name":"reu"},"mark":{"type":"line","strokeWidth":2.5},"encoding":{"y":{"field":"m","type":"quantitative","scale":{"domain":[45.1,100.15],"nice":false,"zero":false},"axis":{"values":[48,54,60,66,72,78,84,90,96],"labelExpr":"datum.value + '%'","title":"Recall"}},"color":{"datum":"undersampled random sampling","type":"nominal","scale":{"domain":["random sampling","undersampled random sampling"],"range":["#8000ff","#ff0000"]},"legend":{"orient":"bottom-right","title":null}}}}
 ]},
{"width":528,"height":322,
 "title":{"text":["Incremental Classification Precision","random sampling &","undersampled random sampling"]},
 "encoding":{"x":{"field":"i","type":"quantitative","scale":{"domain":[-5,105],"nice":false,"zero":false},"axis":{"values":[0,25,50,75,100],"title":"Query iteration"}}},
 "layer":[
  {"data":{"name":"prr"},"mark":{"type":"rule","color":"#8000ff","opacity":0.5,"strokeWidth":2},"encoding":{"y":{"field":"lo","type":"quantitative","scale":{"domain":[45.1,100.15],"nice":false,"zero":false},"axis":{"values":[48,54,60,66,72,78,84,90,96],"labelExpr":"datum.value + '%'","title":"Precision"}},"y2":{"field":"hi"}}},
  {"data":{"name":"prr"},"mark":{"type":"tick","orient":"horizontal","color":"#8000ff","size":9,"thickness":2},"encoding":{"y":{"field":"hi","type":"quantitative","scale":{"domain":[45.1,100.15],"nice":false,"zero":false},"axis":{"values":[48,54,60,66,72,78,84,90,96],"labelExpr":"datum.value + '%'","title":"Precision"}}}},
  {"data":{"name":"prr"},"mark":{"type":"tick","orient":"horizontal","color":"#8000ff","size":9,"thickness":2},"encoding":{"y":{"field":"lo","type":"quantitative","scale":{"domain":[45.1,100.15],"nice":false,"zero":false},"axis":{"values":[48,54,60,66,72,78,84,90,96],"labelExpr":"datum.value + '%'","title":"Precision"}}}},
  {"data":{"name":"prr"},"mark":{"type":"line","strokeWidth":2.5},"encoding":{"y":{"field":"m","type":"quantitative","scale":{"domain":[45.1,100.15],"nice":false,"zero":false},"axis":{"values":[48,54,60,66,72,78,84,90,96],"labelExpr":"datum.value + '%'","title":"Precision"}},"color":{"datum":"random sampling","type":"nominal","scale":{"domain":["random sampling","undersampled random sampling"],"range":["#8000ff","#ff0000"]},"legend":{"orient":"bottom-right","title":null}}}},
  {"data":{"name":"pru"},"mark":{"type":"rule","color":"#ff0000","opacity":0.5,"strokeWidth":2},"encoding":{"y":{"field":"lo","type":"quantitative","scale":{"domain":[45.1,100.15],"nice":false,"zero":false},"axis":{"values":[48,54,60,66,72,78,84,90,96],"labelExpr":"datum.value + '%'","title":"Precision"}},"y2":{"field":"hi"}}},
  {"data":{"name":"pru"},"mark":{"type":"tick","orient":"horizontal","color":"#ff0000","size":9,"thickness":2},"encoding":{"y":{"field":"hi","type":"quantitative","scale":{"domain":[45.1,100.15],"nice":false,"zero":false},"axis":{"values":[48,54,60,66,72,78,84,90,96],"labelExpr":"datum.value + '%'","title":"Precision"}}}},
  {"data":{"name":"pru"},"mark":{"type":"tick","orient":"horizontal","color":"#ff0000","size":9,"thickness":2},"encoding":{"y":{"field":"lo","type":"quantitative","scale":{"domain":[45.1,100.15],"nice":false,"zero":false},"axis":{"values":[48,54,60,66,72,78,84,90,96],"labelExpr":"datum.value + '%'","title":"Precision"}}}},
  {"data":{"name":"pru"},"mark":{"type":"line","strokeWidth":2.5},"encoding":{"y":{"field":"m","type":"quantitative","scale":{"domain":[45.1,100.15],"nice":false,"zero":false},"axis":{"values":[48,54,60,66,72,78,84,90,96],"labelExpr":"datum.value + '%'","title":"Precision"}},"color":{"datum":"undersampled random sampling","type":"nominal","scale":{"domain":["random sampling","undersampled random sampling"],"range":["#8000ff","#ff0000"]},"legend":{"orient":"bottom-right","title":null}}}}
 ]},
{"width":528,"height":322,
 "title":{"text":["Incremental Classification Selected Label Ratio","random sampling &","undersampled random sampling"]},
 "encoding":{"x":{"field":"i","type":"quantitative","scale":{"domain":[-4.95,103.95],"nice":false,"zero":false},"axis":{"values":[0,25,50,75,100],"title":"Query iteration"}},
  "y":{"field":"v","type":"quantitative","scale":{"domain":[0,100],"nice":false},"axis":{"values":[0,10,20,30,40,50,60,70,80,90,100],"labelExpr":"datum.value + '%'","title":"Selected Label Ratio"}}},
 "layer":[
  {"data":{"name":"lrr"},"mark":{"type":"line","strokeWidth":2.7},"encoding":{"color":{"datum":"random sampling","type":"nominal","scale":{"domain":["random sampling","undersampled random sampling"],"range":["#8000ff","#ff0000"]},"legend":{"orient":"top-right","title":null}}}},
  {"data":{"name":"lru"},"mark":{"type":"line","strokeWidth":2.7},"encoding":{"color":{"datum":"undersampled random sampling","type":"nominal","scale":{"domain":["random sampling","undersampled random sampling"],"range":["#8000ff","#ff0000"]},"legend":{"orient":"top-right","title":null}}}}
 ]}
],
"resolve":{"scale":{"color":"independent"},"legend":{"color":"independent"}},
"config":{
 "font":"DejaVu Sans",
 "view":{"stroke":"#000000","strokeWidth":1.3},
 "axis":{"grid":true,"gridColor":"#b0b0b0","gridWidth":1.6,"domain":false,"ticks":true,"tickColor":"#000000","tickSize":7,"tickWidth":1.3,"labelFontSize":20,"labelColor":"#000000","labelPadding":6,"labelFlush":false,"labelOverlap":false,"titleFontSize":11.5,"titleFontWeight":"normal","titleColor":"#000000","titlePadding":10},
 "axisY":{"titlePadding":12},
 "title":{"fontSize":12.5,"fontWeight":"normal","color":"#000000","anchor":"middle","frame":"group","lineHeight":13.5,"offset":10},
 "legend":{"symbolType":"stroke","symbolStrokeWidth":3,"symbolSize":400,"labelFontSize":10.5,"labelLimit":400,"labelColor":"#000000","labelOffset":8,"rowPadding":-6,"padding":3,"offset":6,"strokeColor":"#cccccc","fillColor":"#ffffff","cornerRadius":3}
}
}
